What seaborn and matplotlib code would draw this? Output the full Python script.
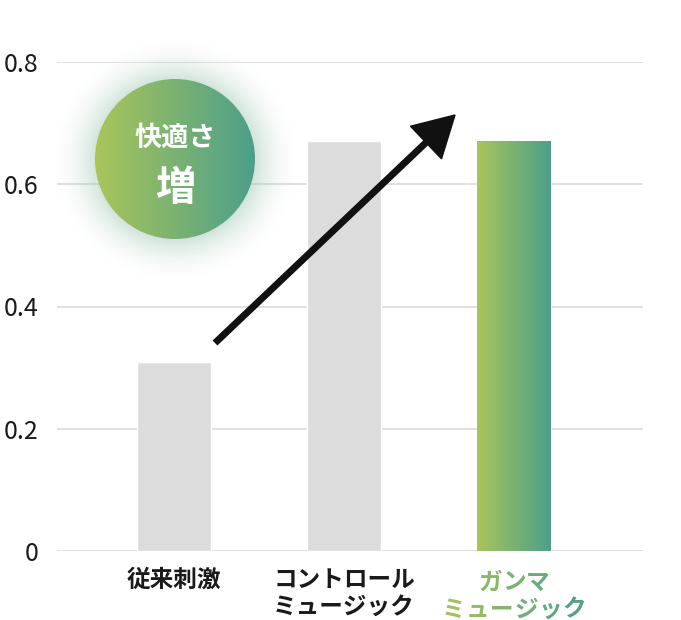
import numpy as np
import pandas as pd
import seaborn as sns
import matplotlib.pyplot as plt
from matplotlib.patches import Circle, Polygon
from matplotlib.colors import LinearSegmentedColormap, to_rgb

# data
categories = ["従来刺激", "コントロール\nミュージック", "ガンマ\nミュージック"]
comfort = [0.31, 0.67, 0.67]
yticks = [0, 0.2, 0.4, 0.6, 0.8]
ytick_labels = ["0", "0.2", "0.4", "0.6", "0.8"]
badge_lines = ["快適さ", "増"]

GREEN_L = "#a9c55a"
GREEN_R = "#4c9f8a"
grad = LinearSegmentedColormap.from_list("gamma", [GREEN_L, GREEN_R])

sns.set_theme(style="white")
plt.rcParams['font.family'] = ['Noto Sans CJK JP', 'DejaVu Sans']

W, H = 681, 620
fig = plt.figure(figsize=(W / 100, H / 100), dpi=100)
ax = fig.add_axes([57 / W, 69 / H, 586 / W, 489 / H])

df = pd.DataFrame({"cond": categories, "value": comfort})
sns.barplot(data=df, x="cond", y="value", color="#dcdcdc", saturation=1,
            width=0.435, ax=ax, zorder=2)

# gradient fill for the last bar
bar = ax.patches[2]
bx, by = bar.get_x(), bar.get_y()
bw, bh = bar.get_width(), bar.get_height()
bar.set_facecolor("none")
ax.imshow(np.linspace(0, 1, 256).reshape(1, -1), cmap=grad, aspect="auto",
          extent=[bx, bx + bw, by, by + bh], zorder=2)

ax.set_xlim(-0.688, 2.759)
ax.set_ylim(0, 0.8)
ax.set_yticks(yticks)
ax.set_yticklabels(ytick_labels)
ax.set_xticks(range(len(categories)))
ax.set_xticklabels(categories[:2] + [""])
ax.yaxis.grid(True, color="#dadada", lw=1.2)
ax.set_axisbelow(True)
for s in ax.spines.values():
    s.set_visible(False)
ax.set_xlabel("")
ax.set_ylabel("")
ax.tick_params(axis="y", length=0, pad=13.5, labelsize=18, labelcolor="#1a1a1a")
ax.tick_params(axis="x", length=0, pad=12, labelsize=17, labelcolor="#1a1a1a")
for lab in ax.get_xticklabels():
    lab.set_fontweight("bold")
    lab.set_linespacing(1.15)

# gradient coloured label, one character at a time
lines = categories[2].split("\n")
widest = max(len(l) for l in lines)
adv = 17.3
for li, line in enumerate(lines):
    n = len(line)
    for ci, ch in enumerate(line):
        off = (ci - (n - 1) / 2) * adv
        t = (off / adv + widest / 2) / widest
        ax.annotate(ch, xy=(2, 0), xycoords="data", xytext=(off, -22.7 - 19.6 * li),
                    textcoords="offset points", ha="center", va="center",
                    fontsize=17, fontweight="bold", color=grad(t),
                    annotation_clip=False)

# overlay in pixel coordinates for the badge and arrow
ov = fig.add_axes([0, 0, 1, 1], zorder=5)
ov.set_xlim(0, W)
ov.set_ylim(H, 0)
ov.axis("off")
ov.patch.set_alpha(0)

cx, cy, R = 175, 159, 80
m = 45
yy, xx = np.mgrid[cy - R - m:cy + R + m, cx - R - m:cx + R + m]
rr = np.hypot(xx - cx, yy - cy)
a = np.clip(1 - (rr - R) / m, 0, 1) ** 2 * 0.45
a[rr < R - 2] = 0
glow = np.zeros(rr.shape + (4,))
glow[..., :3] = to_rgb("#9cc3ad")
glow[..., 3] = a
ov.imshow(glow, extent=[cx - R - m, cx + R + m, cy + R + m, cy - R - m],
          interpolation="bilinear", zorder=1)

disc = Circle((cx, cy), R, transform=ov.transData)
im = ov.imshow(np.linspace(0, 1, 256).reshape(1, -1), cmap=grad, aspect="auto",
               extent=[cx - R, cx + R, cy + R, cy - R], zorder=2)
im.set_clip_path(disc)
ov.set_xlim(0, W)
ov.set_ylim(H, 0)

ov.text(cx, 138, badge_lines[0], color="white", fontsize=19.5, fontweight="bold",
        ha="center", va="center", zorder=3)
ov.text(cx, 189, badge_lines[1], color="white", fontsize=29, fontweight="bold",
        ha="center", va="center", zorder=3)

# arrow
tail = np.array([215, 343])
tip = np.array([455, 115])
u = (tip - tail) / np.hypot(*(tip - tail))
perp = np.array([-u[1], u[0]])
base = tip - 40 * u
ov.plot([tail[0], base[0] + 3 * u[0]], [tail[1], base[1] + 3 * u[1]],
        color="#111111", lw=5, solid_capstyle="butt", zorder=4)
ov.add_patch(Polygon([tip, base + 22.5 * perp, base - 22.5 * perp],
                     closed=True, color="#111111", zorder=4))

fig.savefig("out.png", dpi=100)
